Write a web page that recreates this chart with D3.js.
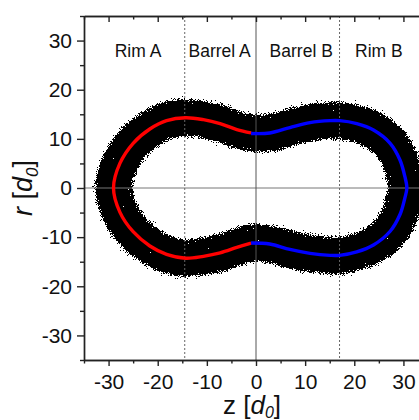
<!DOCTYPE html>
<html>
<head>
<meta charset="utf-8">
<script src="https://cdn.jsdelivr.net/npm/d3@7"></script>
<style>
  html, body { margin: 0; padding: 0; background: #fff; }
  svg { display: block; font-family: "Liberation Sans", Arial, sans-serif; }
</style>
</head>
<body>
<svg id="chart" width="419" height="420"></svg>
<script>
// Ridge line of side A (red): upper junction -> round the left rim -> lower junction
const sideAz = [-1.0, -3.9, -7.3, -10.7, -14.3, -18.2, -21.6, -25.0, -27.7, -29.0, -27.7, -25.0, -21.6, -18.2, -14.3, -10.7, -7.3, -3.9, -1.0];
const sideAr = [11.2, 11.9, 13.1, 13.9, 14.3, 13.7, 12.0, 9.1, 5.0, 0.0, -4.9, -8.9, -11.8, -13.5, -14.3, -13.9, -13.2, -12.1, -11.2];

// Ridge line of side B (blue): upper junction -> round the right rim -> lower junction
const sideBz = [-1.0, 2.8, 6.9, 11.0, 15.1, 17.0, 20.5, 23.9, 27.3, 29.3, 30.3, 30.7, 30.3, 29.3, 27.3, 23.9, 20.5, 17.0, 15.1, 11.0, 6.9, 2.8, -1.0];
const sideBr = [11.1, 11.2, 12.3, 13.3, 13.7, 13.7, 13.1, 11.8, 9.1, 5.7, 2.3, 0.0, -2.0, -5.4, -8.8, -11.6, -13.0, -13.7, -13.7, -13.3, -12.5, -11.4, -11.2];

// Half thickness of the particle cloud around the ridge line, in d0
const cloudHalfWidth = 3.75;

// Region dividers and region names
const dividerDotted = [-14.5, 17.0];
const dividerSolid = [0];
const regionNames = ["Rim A", "Barrel A", "Barrel B", "Rim B"];
const regionZ = [-24.0, -7.4, 9.2, 25.0];
const regionR = 26.7;

// Axis ticks
const majorTicks = [-30, -20, -10, 0, 10, 20, 30];
const minorTicks = [-35, -25, -15, -5, 5, 15, 25, 35];

const W = 419, H = 420;
const svg = d3.select("#chart");
svg.append("rect").attr("width", W).attr("height", H).attr("fill", "#fff");

const x = d3.scaleLinear().domain([-35, 35]).range([84, 428]);
const y = d3.scaleLinear().domain([-35, 35]).range([360, 16]);

const toPts = (zs, rs) => zs.map((z, i) => ({ z, r: rs[i] }));
const ptsA = toPts(sideAz, sideAr);
const ptsB = toPts(sideBz, sideBr);

// speckled edge for the dense particle cloud
const defs = svg.append("defs");
const f = defs.append("filter").attr("id", "speckle")
  .attr("filterUnits", "userSpaceOnUse")
  .attr("x", 0).attr("y", 0).attr("width", W).attr("height", H)
  .attr("color-interpolation-filters", "sRGB");
f.append("feGaussianBlur").attr("in", "SourceAlpha").attr("stdDeviation", 2.6).attr("result", "soft");
f.append("feTurbulence").attr("type", "fractalNoise").attr("baseFrequency", 1.4)
  .attr("numOctaves", 2).attr("seed", 7).attr("result", "noise");
// spread the grain values over roughly 0 .. 0.9
f.append("feColorMatrix").attr("in", "noise").attr("type", "matrix")
  .attr("values", "0 0 0 0 0  0 0 0 0 0  0 0 0 0 0  1.5 0 0 0 -0.3").attr("result", "n");
// keep a pixel where the cloud density exceeds the grain value
f.append("feComposite").attr("in", "soft").attr("in2", "n").attr("operator", "arithmetic")
  .attr("k1", 0).attr("k2", 1).attr("k3", -1).attr("k4", 0.45).attr("result", "d");
const ct = f.append("feComponentTransfer").attr("in", "d").attr("result", "t");
ct.append("feFuncA").attr("type", "discrete").attr("tableValues", "0 1");
f.append("feColorMatrix").attr("in", "t").attr("type", "matrix")
  .attr("values", "0 0 0 0 0  0 0 0 0 0  0 0 0 0 0  0 0 0 1 0");

// particle cloud: a band around the closed ridge line
const cloudPts = ptsA.concat(ptsB.slice(1, -1).reverse());
const closedLine = d3.line().x(d => x(d.z)).y(d => y(d.r)).curve(d3.curveCatmullRomClosed.alpha(0.5));
svg.append("path")
  .attr("d", closedLine(cloudPts))
  .attr("fill", "none")
  .attr("stroke", "#000")
  .attr("stroke-width", y(0) - y(2 * cloudHalfWidth))
  .attr("stroke-linejoin", "round")
  .attr("filter", "url(#speckle)");

// reference lines
svg.append("line")
  .attr("x1", x(-35)).attr("x2", x(35)).attr("y1", y(0)).attr("y2", y(0))
  .attr("stroke", "#777").attr("stroke-width", 1);
svg.selectAll("line.solidDiv").data(dividerSolid).join("line")
  .attr("class", "solidDiv")
  .attr("x1", d => x(d)).attr("x2", d => x(d)).attr("y1", y(35)).attr("y2", y(-35))
  .attr("stroke", "#555").attr("stroke-width", 1);
svg.selectAll("line.dotDiv").data(dividerDotted).join("line")
  .attr("class", "dotDiv")
  .attr("x1", d => x(d)).attr("x2", d => x(d)).attr("y1", y(35)).attr("y2", y(-35))
  .attr("stroke", "#666").attr("stroke-width", 1).attr("stroke-dasharray", "2,2");

// ridge lines
const openLine = d3.line().x(d => x(d.z)).y(d => y(d.r)).curve(d3.curveCatmullRom.alpha(0.5));
svg.append("path").attr("d", openLine(ptsA)).attr("fill", "none")
  .attr("stroke", "#ff0000").attr("stroke-width", 3.4);
svg.append("path").attr("d", openLine(ptsB)).attr("fill", "none")
  .attr("stroke", "#0000ff").attr("stroke-width", 3.4);

// region labels
svg.selectAll("text.region").data(regionNames).join("text")
  .attr("class", "region")
  .attr("x", (d, i) => x(regionZ[i])).attr("y", y(regionR))
  .attr("text-anchor", "middle").attr("font-size", 17.5).attr("fill", "#111")
  .text(d => d);

// axes
function styleAxis(g, size) {
  g.attr("font-family", "\"Liberation Sans\", Arial, sans-serif").attr("font-size", size);
  g.selectAll("path.domain").attr("stroke", "#222").attr("stroke-width", 1.4);
  g.selectAll("line").attr("stroke", "#222").attr("stroke-width", 1.4);
  g.selectAll("text").attr("fill", "#111");
}
const fmt = d => String(d);

styleAxis(svg.append("g").attr("transform", `translate(${x(-35)},0)`)
  .call(d3.axisLeft(y).tickValues(minorTicks).tickSize(4).tickSizeOuter(0).tickFormat("")), 21);
styleAxis(svg.append("g").attr("transform", `translate(${x(-35)},0)`)
  .call(d3.axisLeft(y).tickValues(majorTicks).tickSize(7).tickSizeOuter(0).tickPadding(5).tickFormat(fmt)), 21);

styleAxis(svg.append("g").attr("transform", `translate(0,${y(-35)})`)
  .call(d3.axisBottom(x).tickValues(minorTicks).tickSize(3.5).tickSizeOuter(0).tickFormat("")), 21);
styleAxis(svg.append("g").attr("transform", `translate(0,${y(-35)})`)
  .call(d3.axisBottom(x).tickValues(majorTicks).tickSize(6).tickSizeOuter(0).tickPadding(8).tickFormat(fmt)), 21);

styleAxis(svg.append("g").attr("transform", `translate(0,${y(35)})`)
  .call(d3.axisTop(x).tickValues(minorTicks).tickSize(-3.5).tickSizeOuter(0).tickFormat("")), 21);
styleAxis(svg.append("g").attr("transform", `translate(0,${y(35)})`)
  .call(d3.axisTop(x).tickValues(majorTicks).tickSize(-6).tickSizeOuter(0).tickFormat("")), 21);

// axis titles
const yt = svg.append("text")
  .attr("transform", `translate(32,${y(0)}) rotate(-90)`)
  .attr("text-anchor", "middle").attr("font-size", 27).attr("fill", "#111");
yt.append("tspan").attr("font-style", "italic").text("r");
yt.append("tspan").text(" [");
yt.append("tspan").attr("font-style", "italic").text("d");
yt.append("tspan").attr("font-style", "italic").attr("font-size", 17).attr("dy", 6).text("0");
yt.append("tspan").attr("dy", -6).text("]");

const xt = svg.append("text")
  .attr("x", 252).attr("y", 414)
  .attr("text-anchor", "middle").attr("font-size", 26).attr("fill", "#111");
xt.append("tspan").text("z [");
xt.append("tspan").attr("font-style", "italic").text("d");
xt.append("tspan").attr("font-style", "italic").attr("font-size", 16).attr("dy", 4).text("0");
xt.append("tspan").attr("dy", -4).text("]");
</script>
</body>
</html>
